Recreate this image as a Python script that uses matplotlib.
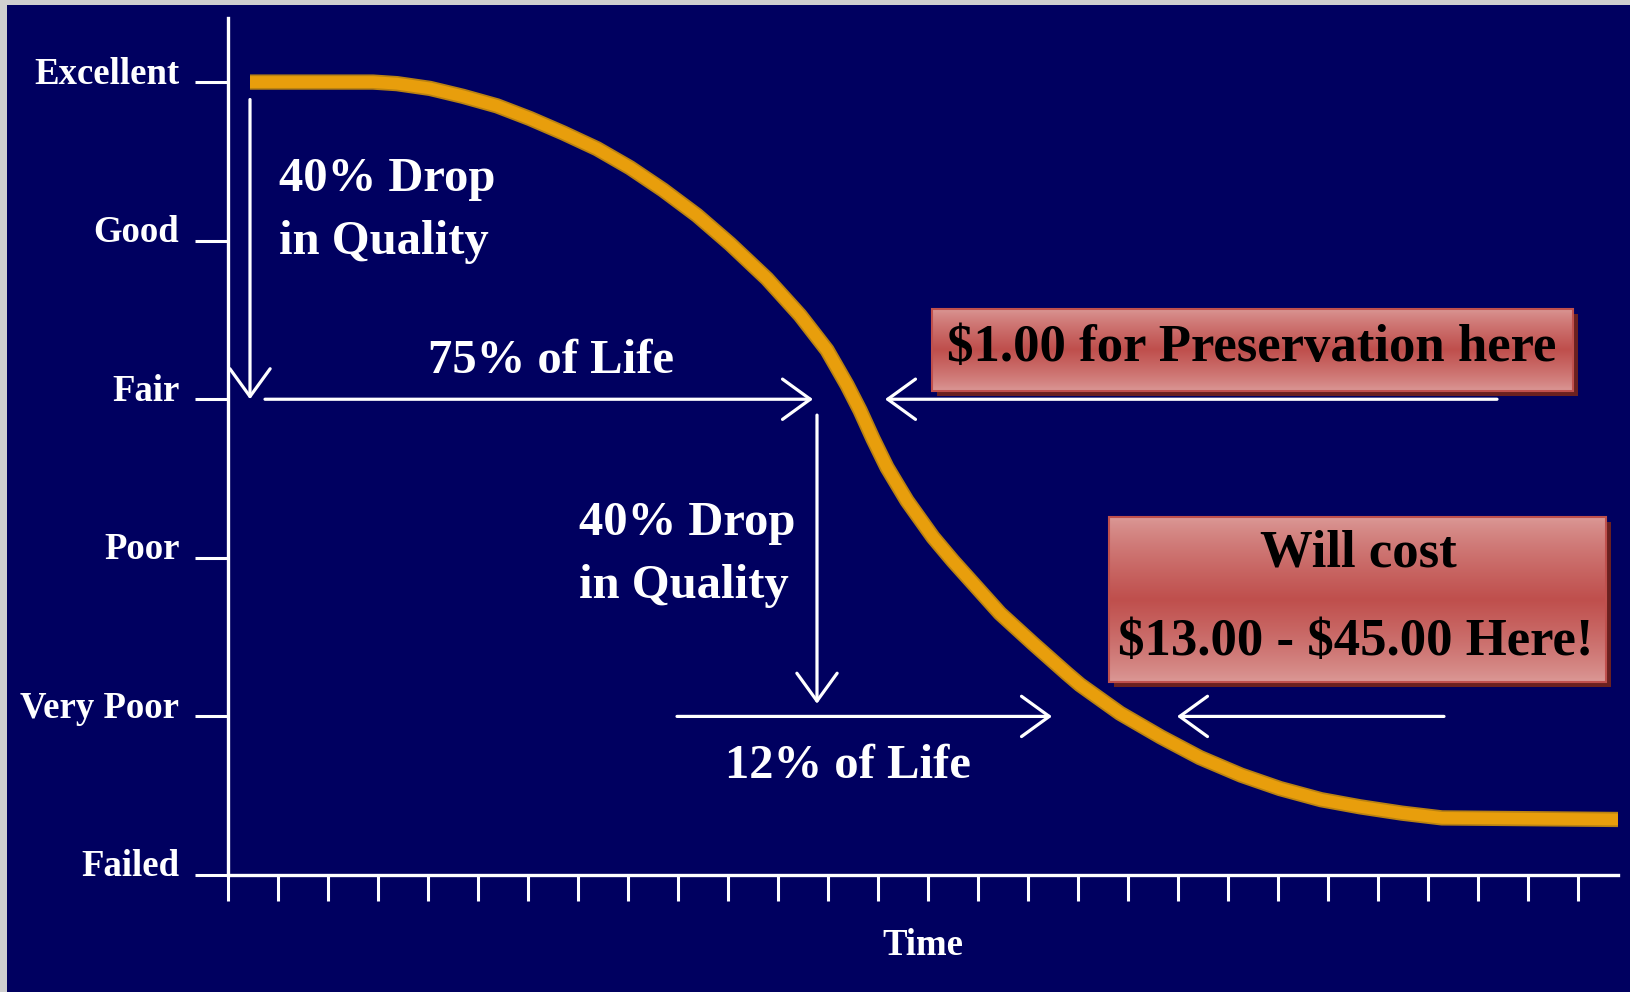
import numpy as np
import matplotlib.pyplot as plt
from matplotlib.patches import Rectangle
from matplotlib.transforms import ScaledTranslation

# quality curve (x in time ticks, y in quality levels)
time_pts = [0.44, 2.90, 3.38, 4.04, 4.70, 5.38, 6.04, 6.70, 7.38, 8.04,
            8.70, 9.38, 10.04, 10.78, 11.44, 11.98, 12.38, 12.64, 12.90, 13.18,
            13.58, 14.10, 14.50, 15.44, 16.10, 16.78, 17.04, 17.84, 18.66, 19.44,
            20.26, 21.04, 21.86, 22.64, 23.48, 24.28, 27.82]
quality_pts = [5.00, 5.00, 4.99, 4.96, 4.91, 4.85, 4.77, 4.68, 4.58, 4.46,
               4.32, 4.16, 3.98, 3.76, 3.53, 3.31, 3.09, 2.93, 2.75, 2.57,
               2.36, 2.13, 1.98, 1.65, 1.46, 1.27, 1.20, 1.02, 0.87, 0.74,
               0.63, 0.545, 0.475, 0.43, 0.39, 0.36, 0.35]

levels = ['Failed', 'Very Poor', 'Poor', 'Fair', 'Good', 'Excellent']
n_time_ticks = 28

# annotation arrows (start, end) in data units
arrow_starts = [(0.44, 4.89), (0.74, 3.0), (11.78, 2.90), (8.98, 1.0), (25.38, 3.0), (24.32, 1.0)]
arrow_ends = [(0.44, 3.0), (11.70, 3.0), (11.78, 1.08), (16.48, 1.0), (13.14, 3.0), (18.98, 1.0)]

notes = ['40% Drop\nin Quality', '75% of Life', '40% Drop\nin Quality', '12% of Life']
note_xy = [(1.02, 4.19), (6.45, 3.24), (7.02, 2.02), (12.4, 0.69)]
note_ha = ['left', 'center', 'left', 'center']

box_extents = [(14.08, 26.90, 3.05, 3.57), (17.62, 27.56, 1.22, 2.26)]
box_texts = ['$1.00 for Preservation here', 'Will cost', '$13.00 - $45.00 Here!']
box_text_xy = [(20.48, 3.32), (22.60, 2.03), (22.56, 1.47)]

NAVY = '#000060'
SERIF = 'Liberation Serif'

fig = plt.figure(figsize=(16.3, 9.92), dpi=100, facecolor=NAVY)
# light grey frame on the left and top edge
fig.patches.append(Rectangle((0, 0), 7 / 1630, 1, transform=fig.transFigure,
                             facecolor='#cfcfcf', edgecolor='none'))
fig.patches.append(Rectangle((0, 987 / 992), 1, 5 / 992, transform=fig.transFigure,
                             facecolor='#cfcfcf', edgecolor='none'))
ax = fig.add_axes([228 / 1630, 117 / 992, 1390 / 1630, 857 / 992])
ax.set_facecolor('none')

for s in ['top', 'right']:
    ax.spines[s].set_visible(False)
for s in ['left', 'bottom']:
    ax.spines[s].set_color('white')
    ax.spines[s].set_linewidth(2.4)

ax.set_xticks(np.arange(n_time_ticks))
ax.set_xticklabels([])
ax.tick_params(axis='x', direction='out', length=19, width=2.2, color='white')
ax.set_yticks(range(len(levels)))
ax.set_yticklabels(levels, fontsize=26.5, fontweight='bold', family=SERIF, color='white')
ax.tick_params(axis='y', direction='out', length=24, width=2.2, color='white', pad=11)
shift = ScaledTranslation(0, 0.12, fig.dpi_scale_trans)
for lab in ax.get_yticklabels():
    lab.set_transform(lab.get_transform() + shift)

ax.set_xlabel('Time', fontsize=26.5, fontweight='bold', family=SERIF, color='white', labelpad=16)

# the deterioration curve
ax.plot(time_pts, quality_pts, color='#b98212', lw=11, solid_capstyle='butt',
        solid_joinstyle='round', zorder=2)
ax.plot(time_pts, quality_pts, color='#e89e0c', lw=8.5, solid_capstyle='butt',
        solid_joinstyle='round', zorder=2)

for (x0, y0), (x1, y1) in zip(arrow_starts, arrow_ends):
    ax.annotate('', xy=(x1, y1), xytext=(x0, y0),
                arrowprops=dict(arrowstyle='->,head_length=2.0,head_width=1.45', color='white',
                                lw=2.3, shrinkA=0, shrinkB=0, mutation_scale=10), zorder=3)

for txt, (x, y), ha in zip(notes, note_xy, note_ha):
    ax.text(x, y, txt, ha=ha, va='center', fontsize=35, fontweight='bold', family=SERIF,
            color='white', linespacing=1.55, zorder=4)

# red gradient boxes with a drop shadow
light = np.array([0.86, 0.60, 0.59])
dark = np.array([0.75, 0.31, 0.30])
t = np.linspace(0, 1, 120)
w = np.clip(1 - np.abs(t - 0.5) / 0.5, 0, 1) ** 0.8
grad = light * (1 - w)[:, None] + dark * w[:, None]
shadow = ScaledTranslation(5 / 100, -5 / 100, fig.dpi_scale_trans)
for x0, x1, y0, y1 in box_extents:
    ax.add_patch(Rectangle((x0, y0), x1 - x0, y1 - y0, facecolor='#6a2020', edgecolor='none',
                           transform=ax.transData + shadow, zorder=4))
    ax.imshow(grad[:, None, :], extent=[x0, x1, y0, y1], origin='lower', aspect='auto', zorder=5)
    ax.add_patch(Rectangle((x0, y0), x1 - x0, y1 - y0, facecolor='none', edgecolor='#c0504d',
                           lw=1.5, zorder=6))
ax.set_xlim(0, 27.8)
ax.set_ylim(0, 5.404)

for txt, (x, y) in zip(box_texts, box_text_xy):
    ax.text(x, y, txt, ha='center', va='center', fontsize=38, fontweight='bold', family=SERIF,
            color='black', parse_math=False, zorder=7)

fig.savefig('out.png', dpi=100, facecolor=fig.get_facecolor())
